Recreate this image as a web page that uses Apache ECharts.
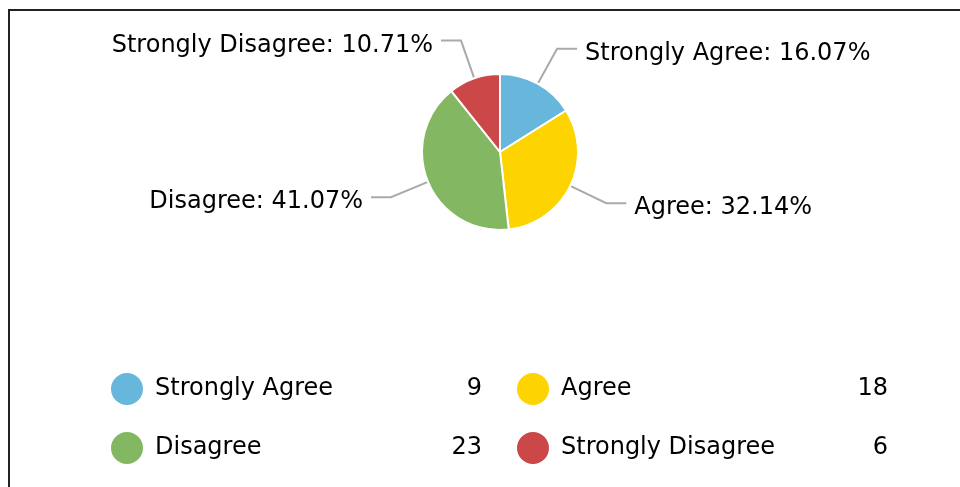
<!DOCTYPE html>
<html>
<head>
<meta charset="utf-8">
<script src="https://cdn.jsdelivr.net/npm/echarts@6/dist/echarts.min.js"></script>
<style>
  html, body { margin: 0; padding: 0; background: #fff; overflow: hidden; }
  #wrap { position: relative; width: 960px; height: 487px; overflow: hidden; }
  #chart { width: 960px; height: 487px; }
  #frame {
    position: absolute; left: 8px; top: 9px; width: 1000px; height: 520px;
    border-top: 2px solid #222; border-left: 2px solid #222; pointer-events: none;
  }
</style>
</head>
<body>
<div id="wrap">
  <div id="chart"></div>
  <div id="frame"></div>
</div>
<script>
const categories = ["Strongly Agree", "Agree", "Disagree", "Strongly Disagree"];
const counts = [9, 18, 23, 6];
const colors = ["#67b7dc", "#fdd400", "#84b761", "#cc4748"];

const total = counts.reduce((a, b) => a + b, 0);
const pieData = categories.map((name, i) => {
  return {name: name, value: counts[i], itemStyle: {color: colors[i]}};
});

const font = "DejaVu Sans, Verdana, sans-serif";

// legend text: name on the left, count right-aligned
function legendFmt(name) {
  const v = counts[categories.indexOf(name)];
  return "{n|" + name + "}{v|" + v + "}";
}

const legendBase = {
  orient: "vertical",
  top: 366,
  icon: "circle",
  itemWidth: 36,
  itemHeight: 34,
  itemGap: 23,
  selectedMode: false,
  formatter: legendFmt,
  textStyle: {
    fontFamily: font,
    fontSize: 24,
    color: "#000",
    rich: {
      n: {width: 267, padding: [0, 0, 0, 5], fontFamily: font, fontSize: 24, color: "#000"},
      v: {width: 60, align: "right", fontFamily: font, fontSize: 24, color: "#000"},
    },
  },
};

const chart = echarts.init(document.getElementById("chart"));
chart.setOption({
  animation: false,
  legend: [
    Object.assign({}, legendBase, {left: 104, data: [categories[0], categories[2]]}),
    Object.assign({}, legendBase, {left: 510, data: [categories[1], categories[3]]}),
  ],
  series: [
    {
      type: "pie",
      center: [500, 152],
      radius: 78,
      startAngle: 90,
      clockwise: true,
      data: pieData,
      itemStyle: {borderColor: "#fff", borderWidth: 2},
      label: {
        // plain percentages, no forced sum-to-100 rounding
        formatter: p => "{t|" + p.name + ": " + (p.value / total * 100).toFixed(2) + "%}",
        fontFamily: font,
        fontSize: 24,
        color: "#000",
        distanceToLabelLine: 8,
        rich: {
          // sit the text a little below the leader line
          t: {fontFamily: font, fontSize: 24, color: "#000", padding: [10, 0, 0, 0]},
        },
      },
      labelLine: {
        length: 40,
        length2: 20,
        lineStyle: {color: "#aaa", width: 2},
      },
      emphasis: {disabled: true},
    },
  ],
});
</script>
</body>
</html>
